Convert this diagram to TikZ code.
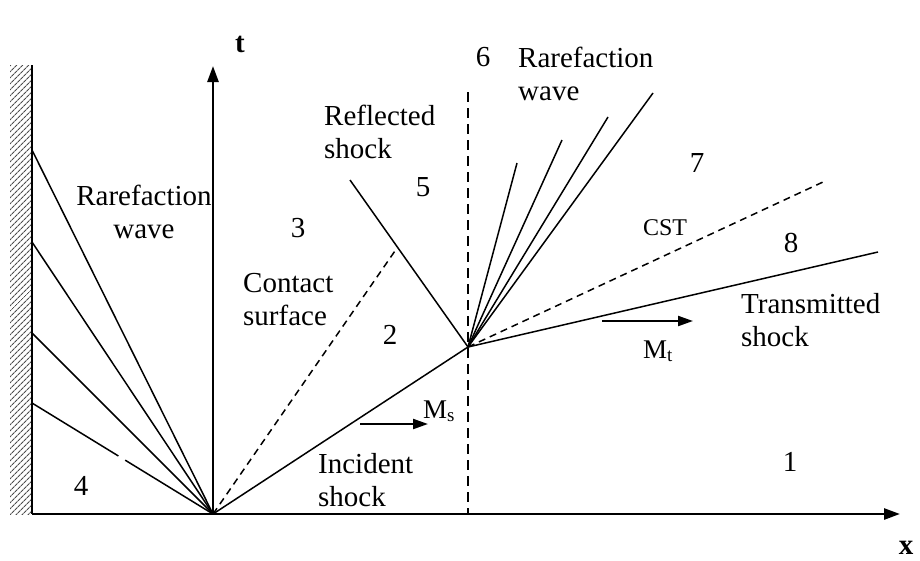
\documentclass[tikz,border=0pt]{standalone}
\usepackage{fontspec}
\setmainfont{Liberation Serif}
\usetikzlibrary{arrows.meta,patterns.meta,positioning}

\begin{document}
\begin{tikzpicture}[
    x=1pt, y=-1pt,
    font=\fontsize{29}{33}\selectfont,
    wavefront/.style={line width=1.5pt},
    contactline/.style={line width=1.5pt, dash pattern=on 7pt off 5pt},
    axisline/.style={line width=2.6pt, -{Triangle[length=16pt,width=11pt]}},
    machvec/.style={line width=2.2pt, -{Triangle[length=15pt,width=10pt]}},
    txt/.style={inner sep=0pt, align=left, anchor=north west},
    region/.style={inner sep=0pt},
    machlbl/.style={inner sep=0pt, anchor=base west, font=\fontsize{27}{30}\selectfont}
]
\useasboundingbox (0,0) rectangle (920,560);

% end wall
\fill[pattern={Lines[angle=45,distance=4pt,line width=1.1pt]}, pattern color=black!70]
  (10,65) rectangle (32,514);
\draw[line width=2pt] (32,65) -- (32,514);

\coordinate (o) at (213,514);
\coordinate (p) at (468,347);

% axes
\coordinate (xend) at (900,514);
\coordinate (tend) at (213,66);
\draw[axisline] (32,514) -- (xend);
\draw[axisline] (o) -- (tend);
\node[region, font=\fontsize{29}{33}\selectfont\bfseries] (tlbl) at (240,44) {t};
\node[region, font=\fontsize{29}{33}\selectfont\bfseries] (xlbl) at (906,548) {x};

% rarefaction fan towards the wall
\foreach \y [count=\i] in {150,242,333}
  \coordinate (w\i) at (32,\y);
\coordinate (w4) at (32,403);
\foreach \i in {1,2,3}
  \draw[wavefront] (o) -- (w\i);
\draw[wavefront, dash pattern=on 103pt off 8pt on 200pt] (o) -- (w4);

% incident, reflected shock and contact surface
\coordinate (rs) at (350,180);
\coordinate (cs) at (397,248);
\draw[wavefront] (o) -- (p);
\draw[wavefront] (p) -- (rs);
\draw[contactline] (o) -- (cs);
\draw[line width=2.6pt, dash pattern=on 10pt off 6pt] (468,92) -- (468,514);

% fan, CST and transmitted shock at the interface
\foreach \x/\y [count=\i] in {517/163, 562/140, 608/117, 653/93}{
  \coordinate (f\i) at (\x,\y);
  \draw[wavefront] (p) -- (f\i);
}
\coordinate (cst) at (823,182);
\coordinate (ts) at (878,252);
\draw[contactline] (p) -- (cst);
\draw[wavefront] (p) -- (ts);

% Mach numbers
\coordinate (ms0) at (360,424);
\coordinate (ms1) at (428,424);
\coordinate (mt0) at (602,321);
\coordinate (mt1) at (693,321);
\draw[machvec] (ms0) -- (ms1);
\draw[machvec] (mt0) -- (mt1);
\node[machlbl] (mslbl) at (423,418) {M\textsubscript{s}};
\node[machlbl] (mtlbl) at (643,358) {M\textsubscript{t}};

% labels
\node[txt] (rwright) at (518,47) {Rarefaction\\wave};
\node[txt, align=center, anchor=north] (rwleft) at (144,185) {Rarefaction\\wave};
\node[txt] (refl) at (324,105) {Reflected\\shock};
\node[txt] (cont) at (243,273) {Contact\\surface};
\node[txt] (inc) at (318,453) {Incident\\shock};
\node[txt] (trans) at (741,293) {Transmitted\\shock};
\node[region, font=\fontsize{24}{28}\selectfont] (cstlbl) at (665,228) {CST};

\node[region] (r1) at (790,462) {1};
\node[region] (r2) at (390,335) {2};
\node[region] (r3) at (298,228) {3};
\node[region] (r4) at (81,486) {4};
\node[region] (r5) at (423,187) {5};
\node[region] (r6) at (483,57) {6};
\node[region] (r7) at (697,163) {7};
\node[region] (r8) at (791,243) {8};
\end{tikzpicture}
\end{document}
